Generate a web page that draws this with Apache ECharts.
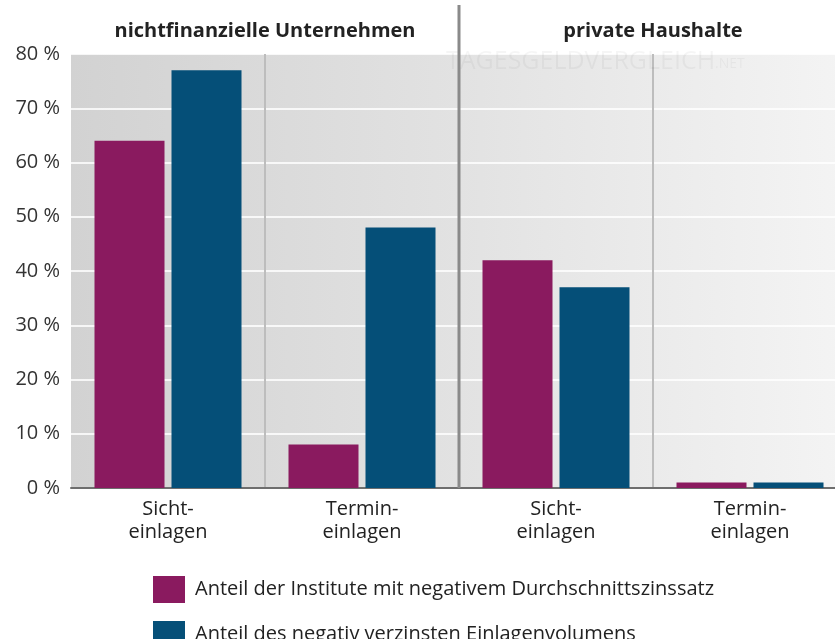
<!DOCTYPE html>
<html>
<head>
<meta charset="utf-8">
<script src="https://cdn.jsdelivr.net/npm/echarts@6/dist/echarts.min.js"></script>
<style>
  html, body { margin: 0; padding: 0; background: #fff; }
  #chart { width: 835px; height: 639px; }
</style>
</head>
<body>
<div id="chart"></div>
<script>
const categories = ['Sicht-\neinlagen', 'Termin-\neinlagen', 'Sicht-\neinlagen', 'Termin-\neinlagen']
const groupNames = ['nichtfinanzielle Unternehmen', 'private Haushalte']
const seriesNames = [
  'Anteil der Institute mit negativem Durchschnittszinssatz',
  'Anteil des negativ verzinsten Einlagenvolumens'
]
const institute = [64, 8, 42, 1]
const volumen = [77, 48, 37, 1]

const font = '"Open Sans", "Noto Sans", sans-serif'
const chart = echarts.init(document.getElementById('chart'))

const legendBase = {
  left: 148,
  itemWidth: 32,
  itemHeight: 27,
  icon: 'rect',
  textStyle: { fontSize: 20, color: '#222', fontFamily: font, padding: [0, 0, 0, 5] }
}

const option = {
  animation: false,
  textStyle: { fontFamily: font },
  grid: {
    left: 71,
    top: 54,
    width: 776,
    bottom: 151,
    outerBoundsMode: 'none',
    show: true,
    borderWidth: 0,
    backgroundColor: new echarts.graphic.LinearGradient(0, 0, 1, 0, [
      { offset: 0, color: '#d2d2d2' },
      { offset: 0.5, color: '#e2e2e2' },
      { offset: 1, color: '#f4f4f4' }
    ])
  },
  legend: [
    Object.assign({ top: 571, data: [seriesNames[0]] }, legendBase),
    Object.assign({ top: 616, data: [seriesNames[1]] }, legendBase)
  ],
  xAxis: [
    {
      type: 'category',
      data: categories,
      axisLine: { show: true, lineStyle: { color: '#6e6e6e', width: 2 } },
      axisTick: { show: false },
      axisLabel: { fontSize: 20, color: '#222', lineHeight: 23, margin: 10, fontFamily: font },
      splitLine: {
        show: true,
        lineStyle: { color: ['transparent', '#bdbdbd', 'transparent', '#bdbdbd', 'transparent'], width: 2 }
      }
    },
    {
      type: 'category',
      position: 'top',
      data: groupNames,
      axisLine: { show: false },
      axisTick: { show: false },
      axisLabel: { fontSize: 20, fontWeight: 'bold', color: '#222', margin: 13, fontFamily: font, interval: 0 },
      splitLine: { show: false }
    }
  ],
  yAxis: {
    type: 'value',
    min: 0,
    max: 80,
    interval: 10,
    axisLine: { show: false },
    axisTick: { show: false },
    axisLabel: { formatter: '{value} %', fontSize: 20, color: '#333', margin: 11, fontFamily: font },
    splitLine: { show: true, lineStyle: { color: 'rgba(255,255,255,0.8)', width: 2 } }
  },
  series: [
    {
      name: seriesNames[0],
      type: 'bar',
      data: institute,
      barWidth: 70,
      barGap: '10%',
      itemStyle: { color: '#8a1a5f' }
    },
    {
      name: seriesNames[1],
      type: 'bar',
      data: volumen,
      barWidth: 70,
      itemStyle: { color: '#054f78' }
    }
  ]
}
chart.setOption(option)

// dark separator between the two groups, plus the faint watermark
const x1 = chart.convertToPixel({ xAxisIndex: 0 }, 1)
const x2 = chart.convertToPixel({ xAxisIndex: 0 }, 2)
const sepX = (x1 + x2) / 2
const y0 = chart.convertToPixel({ yAxisIndex: 0 }, 0)
chart.setOption({
  graphic: [
    {
      type: 'line',
      shape: { x1: sepX, y1: 5, x2: sepX, y2: y0 },
      style: { stroke: '#8a8a8a', lineWidth: 3 },
      z: 10
    },
    {
      type: 'text',
      left: 446,
      top: 49,
      style: {
        text: '{a|TAGESGELDVERGLEICH}{b|.NET}',
        rich: {
          a: { fontSize: 25, fontFamily: font, fill: 'rgba(0,0,0,0.04)' },
          b: { fontSize: 14, fontFamily: font, fill: 'rgba(0,0,0,0.04)', padding: [6, 0, 0, 0] }
        }
      },
      z: 1
    }
  ]
})
</script>
</body>
</html>
